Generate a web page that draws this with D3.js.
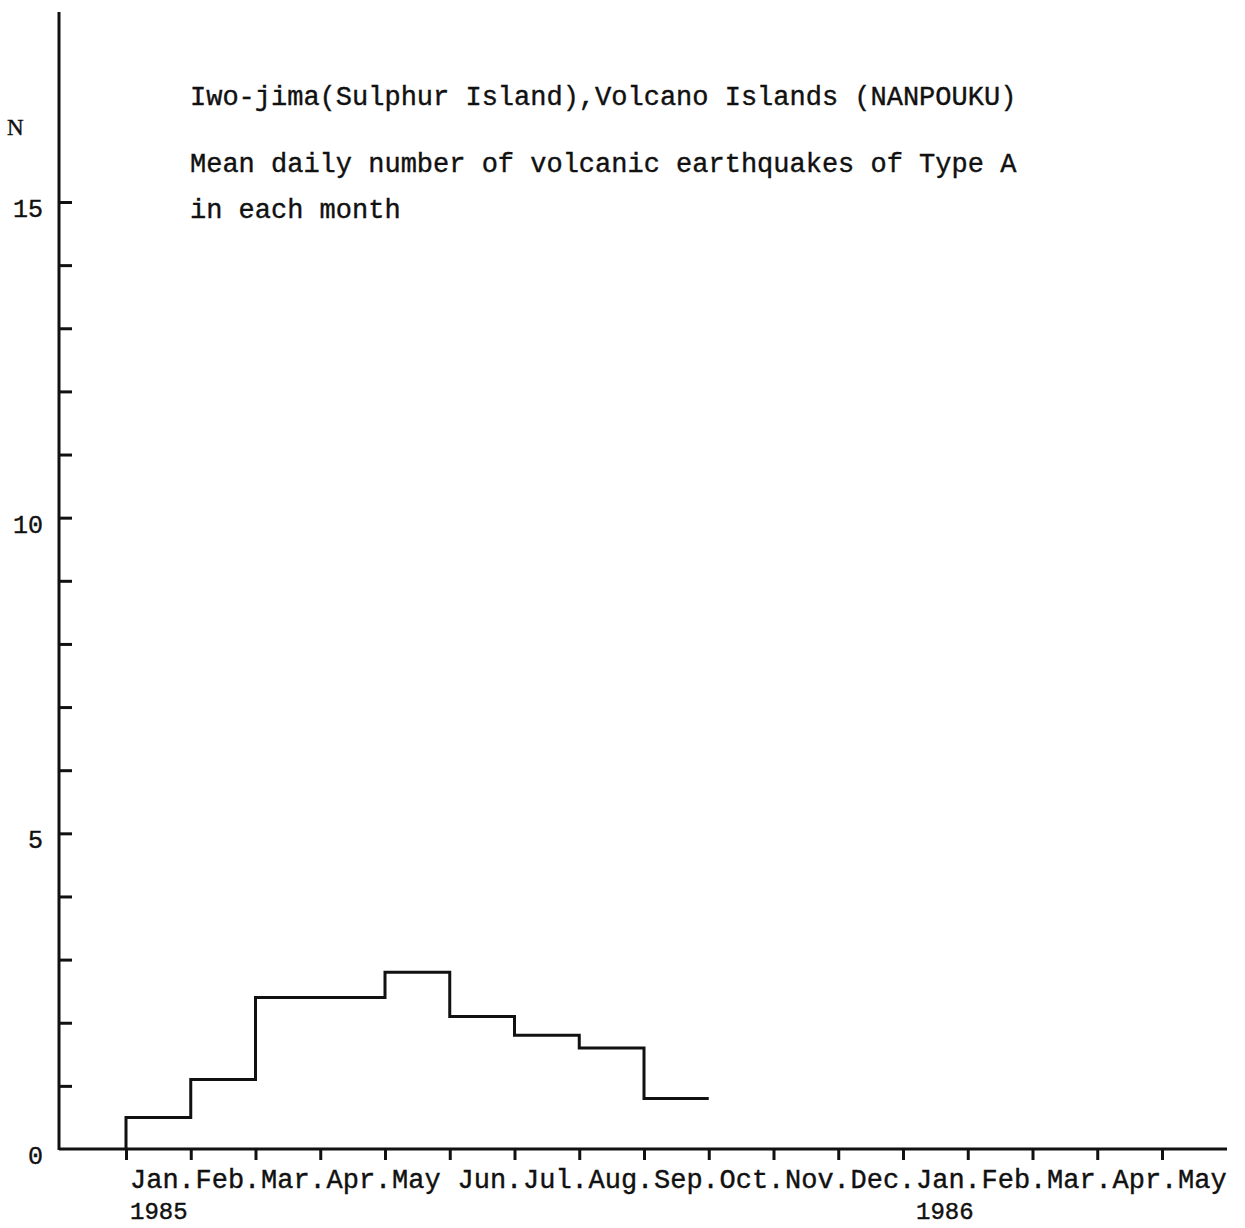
<!DOCTYPE html>
<html>
<head>
<meta charset="utf-8">
<script src="https://cdn.jsdelivr.net/npm/d3@7"></script>
<style>
  body { margin: 0; background: #fff; }
  text { font-family: "Liberation Mono", "DejaVu Sans Mono", monospace; fill: #111; stroke: #111; stroke-width: 0.4; }
</style>
</head>
<body>
<div id="chart"></div>
<script>
// month labels along the bottom, Jan 1985 .. May 1986
const monthLabels = ["Jan.", "Feb.", "Mar.", "Apr.", "May", "Jun.", "Jul.", "Aug.", "Sep.",
  "Oct.", "Nov.", "Dec.", "Jan.", "Feb.", "Mar.", "Apr.", "May"];
const yearLabels = [{ idx: 0, text: "1985" }, { idx: 12, text: "1986" }];
// mean daily number of type A quakes, Jan..Sep 1985
const monthlyMean = [0.5, 1.1, 2.4, 2.4, 2.8, 2.1, 1.8, 1.6, 0.8];
const yTickLabels = [0, 5, 10, 15];
const yMinorTicks = d3.range(1, 16);
const titleLines = [
  "Iwo-jima(Sulphur Island),Volcano Islands (NANPOUKU)",
  "Mean daily number of volcanic earthquakes of Type A",
  "in each month"
];

const W = 1245, H = 1228;
const axisX = 59, axisY = 1149;

const svg = d3.select("#chart").append("svg")
  .attr("width", W).attr("height", H);

const x = d3.scaleLinear().domain([0, monthLabels.length - 1]).range([126, 1162]);
const y = d3.scaleLinear().domain([0, 15]).range([axisY, 202]);

// axes lines
svg.append("line")
  .attr("x1", axisX).attr("x2", axisX)
  .attr("y1", 12).attr("y2", axisY + 1)
  .attr("stroke", "#111").attr("stroke-width", 3);
svg.append("line")
  .attr("x1", axisX).attr("x2", 1227)
  .attr("y1", axisY).attr("y2", axisY)
  .attr("stroke", "#111").attr("stroke-width", 3);

// y ticks (every unit)
const yAxis = d3.axisRight(y).tickValues(yMinorTicks).tickSize(13).tickFormat("");
const gy = svg.append("g").attr("transform", `translate(${axisX},0)`).call(yAxis);
gy.select(".domain").remove();
gy.selectAll(".tick line").attr("stroke", "#111").attr("stroke-width", 3);

// y tick labels
svg.append("g").selectAll("text")
  .data(yTickLabels)
  .join("text")
  .attr("x", 43)
  .attr("y", d => y(d) + 15)
  .attr("text-anchor", "end")
  .attr("font-size", 25)
  .text(d => d);

// N
svg.append("text")
  .attr("x", 7).attr("y", 135)
  .style("font-family", "'Liberation Serif', serif")
  .attr("font-size", 23)
  .text("N");

// x ticks
const xAxis = d3.axisBottom(x).tickValues(d3.range(monthLabels.length)).tickSize(11).tickFormat("");
const gx = svg.append("g").attr("transform", `translate(0,${axisY})`).call(xAxis);
gx.select(".domain").remove();
gx.selectAll(".tick line").attr("stroke", "#111").attr("stroke-width", 3);

// typewritten month labels drift slightly from the ticks
const xl = d3.scaleLinear().domain([0, monthLabels.length - 1]).range([130, 1178]);
svg.append("g").selectAll("text")
  .data(monthLabels)
  .join("text")
  .attr("x", (d, i) => xl(i))
  .attr("y", 1188)
  .attr("font-size", 27)
  .text(d => d);

svg.append("g").selectAll("text")
  .data(yearLabels)
  .join("text")
  .attr("x", d => xl(d.idx))
  .attr("y", 1219)
  .attr("font-size", 24)
  .text(d => d.text);

// title
const titleY = [105, 172, 218];
svg.append("g").selectAll("text")
  .data(titleLines)
  .join("text")
  .attr("x", 190)
  .attr("y", (d, i) => titleY[i])
  .attr("font-size", 27)
  .text(d => d);

// step histogram
const pts = [[0, 0]].concat(monthlyMean.map((v, i) => [i, v]), [[monthlyMean.length, monthlyMean[monthlyMean.length - 1]]]);
const line = d3.line()
  .x(d => x(d[0]))
  .y(d => y(d[1]))
  .curve(d3.curveStepAfter);
svg.append("path")
  .attr("d", line(pts))
  .attr("fill", "none")
  .attr("stroke", "#111")
  .attr("stroke-width", 3);
</script>
</body>
</html>
